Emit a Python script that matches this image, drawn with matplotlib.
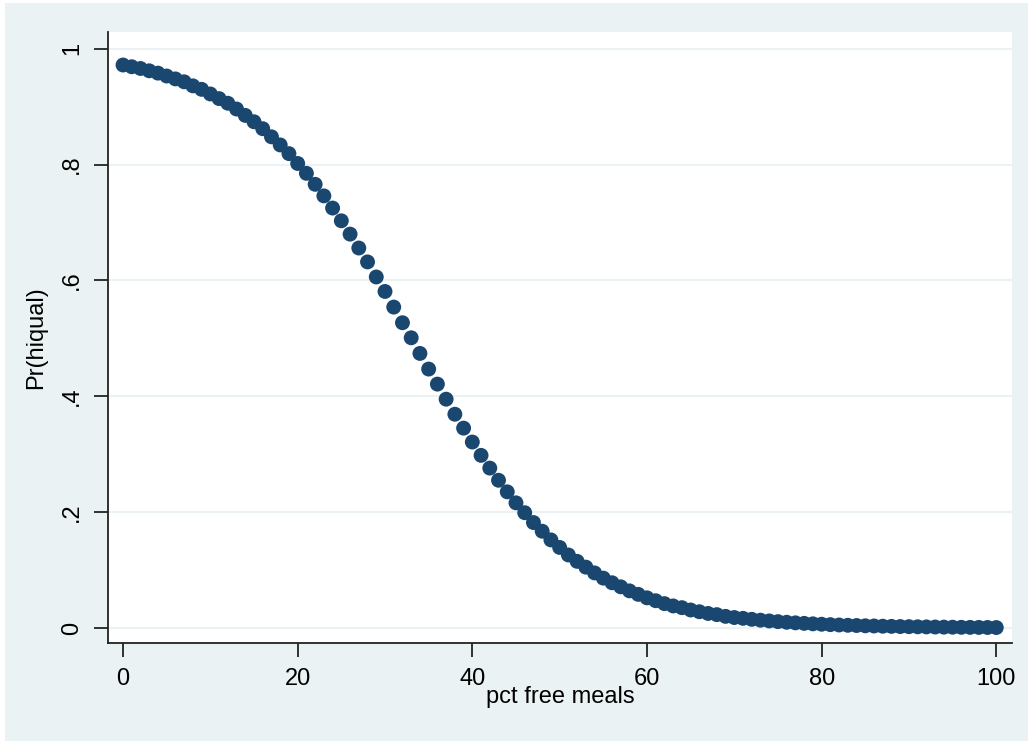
import numpy as np
import matplotlib.pyplot as plt
from matplotlib.patches import Rectangle

# predicted Pr(hiqual) against pct free meals
meals = list(range(0, 101))
pr_hiqual = [
    0.972, 0.969, 0.966, 0.962, 0.958, 0.953, 0.948, 0.943, 0.936, 0.930,
    0.922, 0.914, 0.906, 0.896, 0.885, 0.874, 0.862, 0.848, 0.834, 0.819,
    0.802, 0.785, 0.766, 0.746, 0.725, 0.703, 0.680, 0.656, 0.632, 0.606,
    0.581, 0.554, 0.527, 0.501, 0.474, 0.447, 0.421, 0.395, 0.369, 0.345,
    0.321, 0.298, 0.276, 0.255, 0.235, 0.216, 0.199, 0.182, 0.167, 0.152,
    0.139, 0.126, 0.115, 0.105, 0.095, 0.086, 0.078, 0.071, 0.064, 0.058,
    0.052, 0.047, 0.042, 0.038, 0.035, 0.031, 0.028, 0.025, 0.023, 0.020,
    0.018, 0.0166, 0.0149, 0.0134, 0.0121, 0.0109, 0.0098, 0.0088, 0.0079, 0.0071,
    0.0064, 0.0057, 0.0051, 0.0046, 0.0042, 0.0037, 0.0034, 0.0030, 0.0027, 0.0024,
    0.0022, 0.0020, 0.0018, 0.0016, 0.0014, 0.0013, 0.0011, 0.0010, 0.0009, 0.0008,
    0.0007,
]
xticks = [0, 20, 40, 60, 80, 100]
yticks = [0, 0.2, 0.4, 0.6, 0.8, 1.0]
ytick_labels = ["0", ".2", ".4", ".6", ".8", "1"]

plt.rcParams['font.family'] = ['Liberation Sans Narrow', 'Liberation Sans', 'DejaVu Sans']

W, H = 1028, 744
fig = plt.figure(figsize=(W / 100, H / 100), dpi=100, facecolor="white")
# Stata style graph region (behind the axes)
fig.patches.append(Rectangle((5 / W, 3 / H), 1 - 5 / W, 1 - 6 / H, transform=fig.transFigure,
                             facecolor="#EAF2F3", edgecolor="none", zorder=-10))

ax = fig.add_axes([108 / W, 1 - 643 / H, (1012 - 108) / W, (643 - 32) / H])
ax.set_facecolor("white")

ax.scatter(meals, pr_hiqual, s=115, color="#1A476F", edgecolors="none", zorder=3)

ax.set_xlim(-1.72, 101.8)
ax.set_ylim(-0.026, 1.029)
ax.set_xticks(xticks)
ax.set_yticks(yticks)
ax.set_yticklabels(ytick_labels, rotation=90, va="center")
ax.yaxis.grid(True, color="#EAF2F3", lw=1.5)
ax.set_axisbelow(True)

for s in ["top", "right"]:
    ax.spines[s].set_visible(False)
for s in ["left", "bottom"]:
    ax.spines[s].set_color("#222222")
    ax.spines[s].set_linewidth(1.3)

ax.tick_params(axis="both", length=10, width=1.3, color="#222222", labelsize=17, pad=8)
ax.set_xlabel("pct free meals", fontsize=17, labelpad=-3)
ax.set_ylabel("Pr(hiqual)", fontsize=17, labelpad=10)

fig.savefig("out.png", dpi=100, facecolor=fig.get_facecolor())
